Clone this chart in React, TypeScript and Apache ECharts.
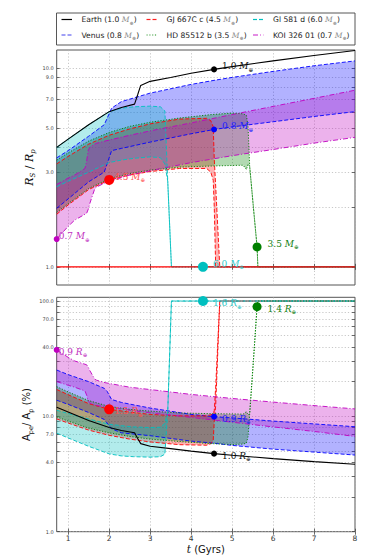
import React, { useEffect, useRef } from "react";
import * as echarts from "echarts";

// ---------- data ----------
const planetNames = ["Earth", "Venus", "GJ 667C c", "HD 85512 b", "Gl 581 d", "KOI 326 01"];
const planetMasses = ["1.0", "0.8", "4.5", "3.5", "6.0", "0.7"];

const earthT = [0.72, 1.0, 1.5, 2.0, 2.3, 2.62, 2.7, 2.77, 3.0, 3.5, 4.0, 4.56, 5.0, 6.0, 7.0, 8.0];
const earthR = [4.0, 4.4, 5.2, 6.05, 6.35, 6.6, 7.4, 8.2, 8.6, 9.0, 9.45, 9.88, 10.2, 10.9, 11.6, 12.3];
const earthA = [12.0, 10.9, 9.2, 8.0, 7.55, 7.2, 6.4, 5.8, 5.5, 5.25, 5.0, 4.75, 4.6, 4.3, 4.05, 3.84];

const venusT = [0.72, 1.0, 1.5, 1.88, 1.95, 2.06, 2.3, 3.0, 4.0, 4.56, 5.0, 6.0, 7.0, 8.0];
const venusRUp = [3.54, 3.85, 4.55, 5.2, 5.6, 6.3, 6.8, 7.5, 8.3, 8.7, 9.0, 9.65, 10.3, 10.9];
const venusRLo = [1.97, 2.2, 2.68, 3.0, 3.3, 3.85, 3.95, 4.25, 4.68, 4.92, 5.07, 5.38, 5.72, 6.05];
const venusAUp = [25.2, 23.0, 20.0, 17.5, 16.5, 14.0, 13.2, 11.8, 10.4, 9.93, 9.7, 9.1, 8.6, 8.13];
const venusALo = [13.8, 12.7, 10.8, 9.4, 8.75, 7.8, 7.2, 6.8, 6.1, 5.85, 5.6, 5.2, 4.9, 4.62];

const gjT = [0.72, 1.0, 1.5, 2.0, 2.5, 3.0, 3.72, 4.38, 4.48, 4.54, 4.565, 4.6, 4.7, 8.0];
const gjRUp = [3.3, 3.6, 4.15, 4.6, 4.95, 5.25, 5.55, 5.6, 5.45, 5.08, 3.5, 2.55, 1.0, 1.0];
const gjRLo = [1.84, 2.05, 2.45, 2.74, 2.9, 3.02, 3.13, 3.13, 3.0, 2.73, 2.0, 1.0, 1.0, 1.0];
const gjAUp = [17.1, 15.4, 12.9, 11.5, 10.9, 10.4, 10.1, 10.1, 10.3, 10.6, 11.2, 18.0, 100, 100];
const gjALo = [9.5, 8.75, 7.6, 6.85, 6.35, 6.0, 5.68, 5.62, 5.78, 6.2, 9.0, 12.4, 100, 100];

const hdT = [0.72, 1.0, 1.5, 2.0, 2.5, 3.0, 3.72, 4.5, 5.0, 5.27, 5.35, 5.39, 5.43, 5.52, 5.61, 5.63, 8.0];
const hdRUp = [3.45, 3.75, 4.3, 4.75, 5.1, 5.35, 5.62, 5.85, 5.95, 5.9, 5.8, 5.08, 3.2, 2.0, 1.26, 1.0, 1.0];
const hdRLo = [1.88, 2.08, 2.48, 2.78, 2.95, 3.07, 3.18, 3.22, 3.24, 3.25, 3.09, 3.3, 3.2, 2.0, 1.26, 1.0, 1.0];
const hdAUp = [18.1, 16.3, 13.7, 12.2, 11.5, 11.1, 10.7, 10.55, 10.5, 10.45, 11.0, 10.3, 10.6, 30, 89.4, 100, 100];
const hdALo = [9.9, 9.1, 7.9, 7.2, 6.7, 6.35, 6.05, 5.8, 5.7, 5.75, 5.86, 6.7, 10.6, 30, 89.4, 100, 100];

const glT = [0.72, 1.0, 1.5, 2.0, 2.3, 2.6, 3.0, 3.25, 3.36, 3.43, 3.52, 8.0];
const glRUp = [4.0, 4.4, 5.2, 6.05, 6.3, 6.4, 6.45, 6.4, 6.1, 2.7, 1.0, 1.0];
const glRLo = [2.53, 2.7, 3.0, 3.35, 3.45, 3.52, 3.58, 3.55, 3.3, 2.7, 1.0, 1.0];
const glAUp = [11.3, 10.6, 9.5, 8.55, 8.3, 8.1, 8.0, 8.05, 8.7, 11.0, 100, 100];
const glALo = [7.15, 6.5, 5.5, 4.73, 4.54, 4.47, 4.43, 4.47, 4.7, 11.0, 100, 100];

const koiT = [0.72, 1.0, 1.16, 1.41, 1.45, 1.49, 1.53, 1.65, 1.69, 1.9, 2.5, 3.11, 4.0, 5.0, 6.0, 7.0, 8.0];
const koiRUp = [2.6, 2.8, 2.9, 3.13, 3.4, 3.87, 4.0, 4.15, 4.19, 4.3, 4.6, 4.89, 5.31, 5.85, 6.43, 7.06, 7.76];
const koiRLo = [1.38, 1.6, 1.72, 1.84, 1.86, 1.95, 2.09, 2.48, 2.52, 2.65, 2.9, 3.08, 3.35, 3.63, 3.9, 4.2, 4.49];
const koiAUp = [37.7, 32.5, 30.2, 28.3, 28.0, 26.7, 24.9, 21.0, 20.6, 19.6, 17.9, 16.9, 15.5, 14.3, 13.3, 12.4, 11.6];
const koiALo = [20.0, 18.6, 17.9, 16.6, 15.3, 13.4, 13.0, 12.5, 12.4, 12.1, 11.3, 10.6, 9.8, 8.9, 8.1, 7.4, 6.7];

// current-age markers
const dotT = [4.56, 4.56, 2.0, 5.61, 4.29, 0.72];
const dotR = [9.88, 4.92, 2.74, 1.26, 1.0, 1.38];
const dotA = [4.75, 9.93, 11.5, 89.4, 100, 37.7];
const radiusLabels = ["1.0", "0.9", "1.5", "1.4", "1.6", "0.9"];

const xTicks = [1, 2, 3, 4, 5, 6, 7, 8];
const topTickVals = [1, 2, 3, 4, 5, 6, 7, 8, 9, 10];
const topLabelVals = [1, 3, 5, 7, 9, 10];
const botTickVals = [1, 2, 3, 4, 5, 6, 7, 8, 9, 10, 20, 30, 40, 50, 60, 70, 80, 90, 100];
const botLabelVals = [1, 4, 7, 10, 40, 70, 100];

// ---------- styles ----------
const colors = ["#000000", "#0000ff", "#ff0000", "#008000", "#00bfbf", "#bf00bf"];
const legendColors = ["#000000", "#6060f0", "#ff2020", "#40a040", "#00c0c0", "#d040d0"];
const labelColors = ["#111111", "#2020ff", "#ff5050", "#108010", "#30c8c8", "#c030c0"];
const fills = ["", "rgba(0,0,255,0.3)", "rgba(255,0,0,0.3)", "rgba(0,128,0,0.3)", "rgba(0,191,191,0.3)", "rgba(191,0,191,0.3)"];
const dashes: any[] = ["solid", [4, 2], [4, 2], [1.2, 1.6], [4, 2], [5, 2, 1, 2]];
const dotSizes = [6, 6, 10, 9, 10, 6];
const labelGaps = [5, 5, 0, 6, 5, -1];

const L = (v: number) => Math.log10(v);
const SERIF = "DejaVu Serif";
const SANS = "DejaVu Sans";

const bands = [
  { i: 1, t: venusT, r: [venusRUp, venusRLo], a: [venusAUp, venusALo] },
  { i: 2, t: gjT, r: [gjRUp, gjRLo], a: [gjAUp, gjALo] },
  { i: 3, t: hdT, r: [hdRUp, hdRLo], a: [hdAUp, hdALo] },
  { i: 4, t: glT, r: [glRUp, glRLo], a: [glAUp, glALo] },
  { i: 5, t: koiT, r: [koiRUp, koiRLo], a: [koiAUp, koiALo] },
];

function fillSeries(t: number[], up: number[], lo: number[], fill: string, ax: number) {
  return {
    type: "custom",
    xAxisIndex: ax,
    yAxisIndex: ax,
    silent: true,
    clip: true,
    z: 1,
    encode: { x: 0, y: 1 },
    data: [[t[0], L(up[0])]],
    renderItem: (_p: any, api: any) => {
      const pts: number[][] = [];
      for (let k = 0; k < t.length; k++) pts.push(api.coord([t[k], L(up[k])]));
      for (let k = t.length - 1; k >= 0; k--) pts.push(api.coord([t[k], L(lo[k])]));
      return { type: "polygon", shape: { points: pts }, style: { fill, stroke: "none" } };
    },
  };
}

function lineSeries(t: number[], v: number[], idx: number, ax: number, width = 0.9) {
  return {
    type: "line",
    xAxisIndex: ax,
    yAxisIndex: ax,
    silent: true,
    showSymbol: false,
    z: 2,
    data: t.map((x, k) => [x, L(v[k])]),
    lineStyle: { color: colors[idx], width, type: dashes[idx] },
  };
}

const mathRich = (size: number) => ({
  n: { fontFamily: SERIF, fontSize: size, lineHeight: size + 4, verticalAlign: "middle" },
  i: { fontFamily: SERIF, fontStyle: "italic", fontSize: size, lineHeight: size + 4, verticalAlign: "middle" },
  s: { fontFamily: SERIF, fontSize: size * 0.62, lineHeight: size + 1, verticalAlign: "bottom" },
});

function dotSeries(vals: number[], ax: number, sym: string, txt: string[]) {
  return {
    type: "scatter",
    xAxisIndex: ax,
    yAxisIndex: ax,
    silent: true,
    z: 5,
    clip: false,
    data: dotT.map((x, k) => ({
      value: [x, L(vals[k])],
      symbolSize: dotSizes[k],
      itemStyle: { color: colors[k], opacity: 1 },
      label: {
        show: true,
        position: "right",
        distance: labelGaps[k],
        offset: [0, ax === 0 ? -3 : 2],
        color: labelColors[k],
        formatter: `{n|${txt[k]} }{i|${sym}}{s|\u2295}`,
        rich: mathRich(9),
      },
    })),
  };
}

// legend sample drawn as small filled segments following the dash pattern
function legendSample(x0: number, y: number, len: number, k: number) {
  const d = dashes[k];
  const out: any[] = [];
  const pattern: number[] = Array.isArray(d) ? d : [len, 0];
  let x = 0;
  let p = 0;
  while (x < len - 0.01) {
    const seg = pattern[p % pattern.length];
    if (p % 2 === 0) {
      const w = Math.min(seg, len - x);
      out.push({
        type: "rect",
        shape: { x: x0 + x, y: y - 0.6, width: w, height: 1.2 },
        style: { fill: legendColors[k], stroke: null },
        z: 12,
      });
    }
    x += seg;
    p++;
  }
  return out;
}

function buildOption() {
  const series: any[] = [];
  for (let ax = 0; ax < 2; ax++) {
    for (const b of bands) {
      const [u, l] = ax === 0 ? b.r : b.a;
      series.push(fillSeries(b.t, u, l, fills[b.i], ax));
    }
    for (const b of bands) {
      const [u, l] = ax === 0 ? b.r : b.a;
      series.push(lineSeries(b.t, u, b.i, ax));
      series.push(lineSeries(b.t, l, b.i, ax));
    }
    series.push(lineSeries(earthT, ax === 0 ? earthR : earthA, 0, ax, 1.1));
  }
  // R_S = R_p reference line in the upper panel
  series.push({
    type: "line",
    xAxisIndex: 0,
    yAxisIndex: 0,
    silent: true,
    showSymbol: false,
    z: 3,
    data: [[0.72, L(1)], [8, L(1)]],
    lineStyle: { color: "#ff0000", width: 1.1 },
  });
  series.push(dotSeries(dotR, 0, "M", planetMasses));
  series.push(dotSeries(dotA, 1, "R", radiusLabels));

  const gridLine = { show: true, lineStyle: { color: "#b0b0b0", width: 0.7, type: [1.2, 2] } };
  const tickStyle = { lineStyle: { color: "#444", width: 0.8 } };
  const xAxis = (grid: number, labels: boolean, pos: string, split: boolean) => ({
    type: "value",
    gridIndex: grid,
    position: pos,
    min: 0.72,
    max: 8,
    axisLine: { show: false },
    axisTick: { show: true, inside: true, length: 3, customValues: xTicks, ...tickStyle },
    axisLabel: {
      show: labels,
      customValues: xTicks,
      formatter: (v: number) => String(Math.round(v)),
      fontFamily: SANS,
      fontSize: 7.5,
      color: "#333",
      margin: 3,
    },
    splitLine: split ? gridLine : { show: false },
  });
  const yAxis = (grid: number, min: number, max: number, ticks: number[], labs: number[], pos: string, main: boolean) => ({
    type: "value",
    gridIndex: grid,
    position: pos,
    min: L(min),
    max: L(max),
    axisLine: { show: false },
    axisTick: { show: true, inside: true, length: 3, customValues: ticks.map(L), ...tickStyle },
    axisLabel: {
      show: main,
      customValues: labs.map(L),
      formatter: (v: number) => Math.pow(10, v).toFixed(1),
      fontFamily: SANS,
      fontSize: 5,
      color: "#444",
      margin: 3,
    },
    splitLine: main ? gridLine : { show: false },
  });

  const xb: any = xAxis(1, true, "bottom", true);
  xb.name = "{i|t}{n| (Gyrs)}";
  xb.nameLocation = "middle";
  xb.nameGap = 11;
  xb.nameTextStyle = {
    color: "#111",
    rich: {
      i: { fontFamily: SERIF, fontStyle: "italic", fontSize: 10.5 },
      n: { fontFamily: SANS, fontSize: 10 },
    },
  };

  // legend drawn as graphic (matplotlib-style box, 3 columns x 2 rows)
  const legendCols = [
    [0, 1],
    [2, 3],
    [4, 5],
  ];
  const colX = [61.5, 146.5, 253];
  const rowY = [19.5, 35];
  const graphics: any[] = [
    {
      type: "rect",
      shape: { x: 56.5, y: 13, width: 298.5, height: 32 },
      style: { fill: "#fff", stroke: "#444", lineWidth: 0.9 },
      z: 10,
    },
    // y-axis titles (rotated, reading bottom to top)
    {
      type: "text",
      x: 29,
      y: 167.5,
      rotation: Math.PI / 2,
      style: {
        text: "{i|R}{s|S}{n| / }{i|R}{s|p}",
        align: "center",
        verticalAlign: "middle",
        fill: "#111",
        rich: {
          i: { fontFamily: SERIF, fontStyle: "italic", fontSize: 11, lineHeight: 15, verticalAlign: "middle" },
          n: { fontFamily: SERIF, fontSize: 11, lineHeight: 15, verticalAlign: "middle" },
          s: { fontFamily: SERIF, fontStyle: "italic", fontSize: 7, lineHeight: 12, verticalAlign: "bottom" },
        },
      },
      z: 11,
    },
    {
      type: "text",
      x: 26.7,
      y: 414.5,
      rotation: Math.PI / 2,
      style: {
        text: "{n|A}{s|pe}{n|/ A}{s|p}{n| (%)}",
        align: "center",
        verticalAlign: "middle",
        fill: "#111",
        rich: {
          n: { fontFamily: SANS, fontSize: 10, lineHeight: 15, verticalAlign: "middle" },
          s: { fontFamily: SANS, fontSize: 6.5, lineHeight: 12, verticalAlign: "bottom" },
        },
      },
      z: 11,
    },
  ];
  legendCols.forEach((col, c) =>
    col.forEach((k, r) => {
      graphics.push(...legendSample(colX[c], rowY[r], 10.5, k));
      graphics.push({
        type: "text",
        x: colX[c] + 20,
        y: rowY[r],
        style: {
          text: `{t|${planetNames[k]} (${planetMasses[k]} }{i|M}{s|\u2295}{t|)}`,
          verticalAlign: "middle",
          fill: "#222",
          rich: {
            t: { fontFamily: SANS, fontSize: 7.6, lineHeight: 11, verticalAlign: "middle" },
            i: { fontFamily: SERIF, fontStyle: "italic", fontSize: 7.6, lineHeight: 11, fill: "#888", verticalAlign: "middle" },
            s: { fontFamily: SERIF, fontSize: 5, lineHeight: 9, fill: "#888", verticalAlign: "bottom" },
          },
        },
        z: 11,
      });
    })
  );

  return {
    animation: false,
    backgroundColor: "#ffffff",
    grid: [
      { left: 56.7, top: 50, width: 298.3, height: 235, show: true, borderColor: "#555", borderWidth: 1, backgroundColor: "transparent" },
      { left: 56.7, top: 297.3, width: 298.3, height: 234.4, show: true, borderColor: "#555", borderWidth: 1, backgroundColor: "transparent" },
    ],
    xAxis: [xAxis(0, false, "bottom", true), xb, xAxis(0, false, "top", false), xAxis(1, false, "top", false)],
    yAxis: [
      yAxis(0, 0.81, 12.37, topTickVals, topLabelVals, "left", true),
      yAxis(1, 1, 107.7, botTickVals, botLabelVals, "left", true),
      yAxis(0, 0.81, 12.37, topTickVals, topLabelVals, "right", false),
      yAxis(1, 1, 107.7, botTickVals, botLabelVals, "right", false),
    ],
    series,
    graphic: graphics,
  };
}

export default function App() {
  const ref = useRef<HTMLDivElement>(null);
  useEffect(() => {
    if (!ref.current) return;
    const chart = echarts.init(ref.current, null, { renderer: "svg" });
    chart.setOption(buildOption() as any);
    return () => chart.dispose();
  }, []);
  return <div ref={ref} style={{ position: "fixed", left: 0, top: 0, width: 374, height: 560 }} />;
}
